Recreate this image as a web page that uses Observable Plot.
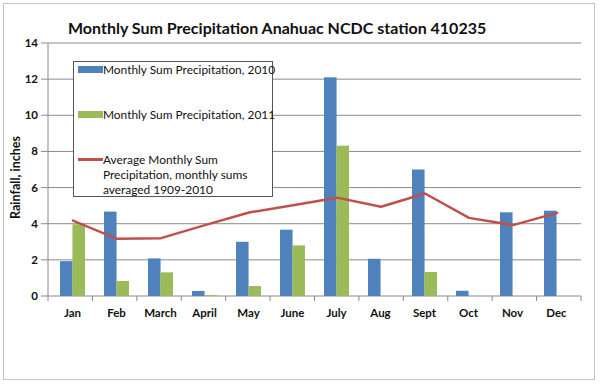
<!DOCTYPE html>
<html>
<head>
<meta charset="utf-8">
<script src="https://cdn.jsdelivr.net/npm/d3@7"></script>
<script src="https://cdn.jsdelivr.net/npm/@observablehq/plot@0.6"></script>
<style>
  html, body { margin: 0; padding: 0; background: #fff; }
  #wrap { position: relative; width: 601px; height: 385px; font-family: Lato, "Open Sans", sans-serif; }
  #frame { position: absolute; left: 3px; top: 3px; width: 592px; height: 377px; border: 1.5px solid #c4c4c4; box-sizing: border-box; }
  #title { position: absolute; left: 68px; top: 18px; font-size: 16px; font-weight: 700; color: #111; white-space: nowrap; }
  #chart { position: absolute; left: 0; top: 0; }
  #legend { position: absolute; left: 73px; top: 61px; width: 200px; height: 136px; background: #fff; border: 1px solid #555; box-sizing: border-box; font-size: 11.9px; color: #111; }
  .li { position: absolute; left: 29px; white-space: nowrap; line-height: 15px; }
  .sw { position: absolute; left: 4px; width: 25px; height: 7px; }
  .ln { position: absolute; left: 4px; width: 25px; height: 2.5px; background: #c0504d; }
</style>
</head>
<body>
<div id="wrap">
  <div id="chart"></div>
  <div id="frame"></div>
  <div id="title">Monthly Sum Precipitation Anahuac NCDC station 410235</div>
  <div id="legend"></div>
</div>
<script>
const months = ["Jan", "Feb", "March", "April", "May", "June", "July", "Aug", "Sept", "Oct", "Nov", "Dec"];
const precip2010 = [1.93, 4.67, 2.08, 0.28, 3.0, 3.67, 12.1, 2.06, 7.0, 0.29, 4.63, 4.72];
const precip2011 = [3.97, 0.83, 1.31, 0.05, 0.55, 2.8, 8.32, null, 1.33, null, null, null];
const avg1909_2010 = [4.2, 3.19, 3.23, 3.95, 4.65, 5.05, 5.47, 4.97, 5.7, 4.35, 3.95, 4.63];
const yTicks = [0, 2, 4, 6, 8, 10, 12, 14];
const seriesLabels = [
  "Monthly Sum Precipitation, 2010",
  "Monthly Sum Precipitation, 2011",
  "Average Monthly Sum Precipitation, monthly sums averaged 1909-2010"
];
const colors = ["#4f81bd", "#9bbb59", "#c0504d"];

const rows = months.map((m, i) => ({month: m, p2010: precip2010[i], p2011: precip2011[i], avg: avg1909_2010[i]}));

const W = 601, H = 385, mL = 48, mR = 20, mT = 43, mB = 89;
const step = (W - mL - mR) / months.length;
const padInner = 0.44;
const bw = step * (1 - padInner);

const chart = Plot.plot({
  width: W, height: H,
  marginLeft: mL, marginRight: mR, marginTop: mT, marginBottom: mB,
  style: {fontFamily: "Lato, 'Open Sans', sans-serif", background: "transparent"},
  x: {domain: months, paddingInner: padInner, paddingOuter: padInner / 2, axis: null},
  y: {domain: [0, 14], ticks: yTicks, axis: null},
  marks: [
    Plot.barY(rows.filter(d => d.p2010 != null), {x: "month", y: "p2010", fill: colors[0], insetRight: bw / 2}),
    Plot.barY(rows.filter(d => d.p2011 != null), {x: "month", y: "p2011", fill: colors[1], insetLeft: bw / 2}),
    Plot.lineY(rows, {x: "month", y: "avg", stroke: colors[2], strokeWidth: 2.5})
  ]
});

// axes and gridlines drawn with d3 from Plot's own scales
const xs = chart.scale("x"), ys = chart.scale("y");
const svg = d3.select(chart);
const g = svg.insert("g", ":first-child").attr("font-family", "Lato, 'Open Sans', sans-serif").attr("font-weight", 700).attr("font-size", 11.5).attr("fill", "#111");
const xLeft = mL, xRight = W - mR, yBottom = ys.apply(0), yTop = ys.apply(14);
g.selectAll("line.grid").data(yTicks.filter(d => d > 0)).join("line")
  .attr("x1", xLeft - 7).attr("x2", xRight).attr("y1", d => ys.apply(d)).attr("y2", d => ys.apply(d))
  .attr("stroke", "#8a8a8a");
g.append("line").attr("x1", xLeft - 7).attr("x2", xRight).attr("y1", yBottom).attr("y2", yBottom).attr("stroke", "#8a8a8a");
g.append("line").attr("x1", xLeft).attr("x2", xLeft).attr("y1", yTop).attr("y2", yBottom).attr("stroke", "#8a8a8a");
g.selectAll("text.yt").data(yTicks).join("text")
  .attr("x", xLeft - 10).attr("y", d => ys.apply(d)).attr("dy", "0.35em").attr("text-anchor", "end").text(d => d);
const bounds = d3.range(months.length + 1).map(i => xLeft + i * (xRight - xLeft) / months.length);
g.selectAll("line.xt").data(bounds).join("line")
  .attr("x1", d => d).attr("x2", d => d).attr("y1", yBottom).attr("y2", yBottom + 5).attr("stroke", "#8a8a8a");
g.selectAll("text.xl").data(months).join("text")
  .attr("x", d => xs.apply(d) + xs.bandwidth / 2).attr("y", yBottom + 21).attr("text-anchor", "middle").text(d => d);
g.append("text").attr("transform", `translate(20,${(yTop + yBottom) / 2 + 8}) rotate(-90)`).attr("text-anchor", "middle")
  .attr("font-size", 12.5).text("Rainfall, inches");

document.getElementById("chart").append(chart);

const legend = document.getElementById("legend");
legend.innerHTML = `
  <div class="sw" style="top:4px;background:${colors[0]}"></div><div class="li" style="top:0px">${seriesLabels[0]}</div>
  <div class="sw" style="top:49px;background:${colors[1]}"></div><div class="li" style="top:45px">${seriesLabels[1]}</div>
  <div class="ln" style="top:96px"></div><div class="li" style="top:90px;white-space:normal;width:160px">${seriesLabels[2]}</div>`;
</script>
</body>
</html>
